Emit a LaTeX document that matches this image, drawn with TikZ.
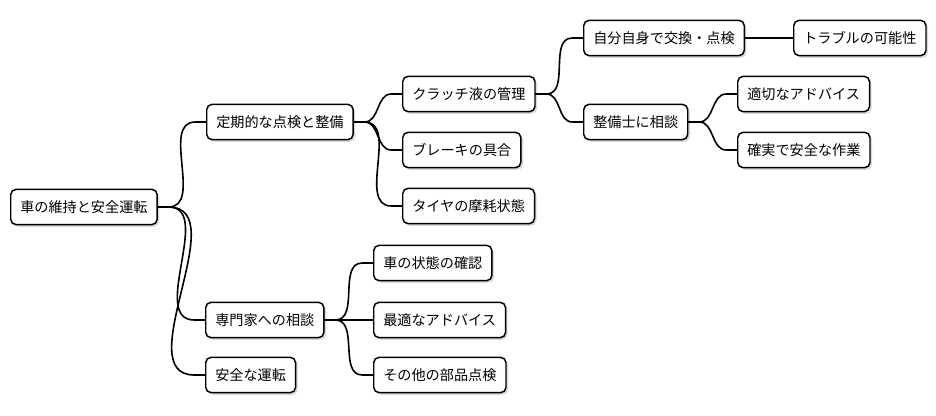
\documentclass[tikz,border=0pt]{standalone}
\usepackage{fontspec}
\setmainfont{Noto Sans CJK JP}
\usetikzlibrary{shadows}

\tikzset{
  topic/.style={draw, line width=1.1pt, fill=white, rounded corners=4pt, anchor=west,
    minimum height=26.5pt, inner xsep=7.2pt, inner ysep=0pt,
    font=\fontsize{10.6}{12}\selectfont,
    drop shadow={shadow xshift=1.6pt, shadow yshift=-1.6pt, opacity=0.3}},
  branch/.style={line width=1.2pt, line cap=round}
}

\begin{document}
\begin{tikzpicture}[x=0.75pt, y=-0.75pt]
  \useasboundingbox (0,0) rectangle (936,415);

  % root
  \node[topic] (root) at (10,207) {車の維持と安全運転};

  % first level
  \node[topic] (check) at (206,122) {定期的な点検と整備};
  \node[topic] (expert) at (205,320) {専門家への相談};
  \node[topic] (drive) at (205,375) {安全な運転};

  % maintenance
  \node[topic] (clutch) at (402,94) {クラッチ液の管理};
  \node[topic] (brake) at (402,150) {ブレーキの具合};
  \node[topic] (tire) at (402,206) {タイヤの摩耗状態};

  % clutch fluid
  \node[topic] (self) at (583,38) {自分自身で交換・点検};
  \node[topic] (trouble) at (793,38) {トラブルの可能性};
  \node[topic] (mech) at (583,122) {整備士に相談};
  \node[topic] (advice) at (737,94) {適切なアドバイス};
  \node[topic] (safe) at (737,150) {確実で安全な作業};

  % expert
  \node[topic] (state) at (373,263) {車の状態の確認};
  \node[topic] (best) at (373,320) {最適なアドバイス};
  \node[topic] (parts) at (373,375) {その他の部品点検};

  % branches
  \foreach \p/\c in {root/check, root/expert, root/drive,
                     check/clutch, check/brake, check/tire,
                     clutch/self, self/trouble, clutch/mech,
                     mech/advice, mech/safe,
                     expert/state, expert/best, expert/parts}
    \draw[branch] (\p.east) -- ++(8pt,0) to[out=0, in=180] ([xshift=-8pt]\c.west) -- (\c.west);
\end{tikzpicture}
\end{document}
